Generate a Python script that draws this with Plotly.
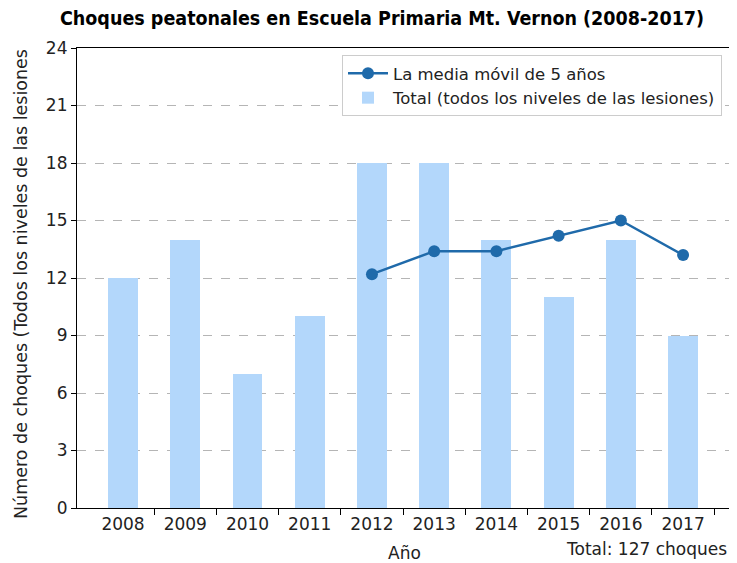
import plotly.graph_objects as go

# datos
years = [2008, 2009, 2010, 2011, 2012, 2013, 2014, 2015, 2016, 2017]
total = [12, 14, 7, 10, 18, 18, 14, 11, 14, 9]
ma_years = [2012, 2013, 2014, 2015, 2016, 2017]
ma_vals = [12.2, 13.4, 13.4, 14.2, 15.0, 13.2]
y_ticks = [0, 3, 6, 9, 12, 15, 18, 21, 24]

xr = [2008 - 0.74, 2017 + 0.77]
font = "DejaVu Sans"
txt = "#222"

# la pagina deja 8px de margen en el body, asi que la figura es un poco mas chica
W, H = 729, 555
ml, mr, mt, mb = 69, 6, 40, 55
pw, ph = W - ml - mr, H - mt - mb


def px(xp):  # x de pagina -> paper
    return (xp - 8 - ml) / pw


def py(yp):  # y de pagina -> paper
    return (H - mb - (yp - 8)) / ph


fig = go.Figure()
fig.add_trace(go.Bar(x=years, y=total, width=0.48, marker_color="#b3d7fb",
                     marker_line_width=0, name="Total (todos los niveles de las lesiones)"))
fig.add_trace(go.Scatter(x=ma_years, y=ma_vals, mode="lines+markers",
                         line=dict(color="#1f6aaa", width=2.5),
                         marker=dict(size=12, color="#1f6aaa"),
                         name="La media móvil de 5 años"))
# eje auxiliar para las marcas entre categorias
fig.add_trace(go.Scatter(x=[], y=[], xaxis="x2", showlegend=False, hoverinfo="skip"))

fig.update_layout(
    width=W, height=H,
    margin=dict(l=ml, r=mr, t=mt, b=mb),
    plot_bgcolor="white", paper_bgcolor="white",
    font=dict(family=font, size=17, color=txt),
    title=dict(text="<b>Choques peatonales en Escuela Primaria Mt. Vernon (2008-2017)</b>",
               font=dict(family="DejaVu Sans Condensed, Liberation Sans Narrow, sans-serif",
                         size=19.5, color="black"),
               x=(382 - 8) / W, xanchor="center", y=1 - (18 - 8) / H, yanchor="middle"),
    xaxis=dict(range=xr, tickvals=years, ticks="", showgrid=False, zeroline=False,
               showline=True, linecolor="black", linewidth=1.2, mirror=True,
               tickfont=dict(size=17, color=txt), automargin=False),
    xaxis2=dict(overlaying="x", side="bottom", range=xr,
                tickvals=[y + 0.5 for y in years], ticks="outside", ticklen=6,
                tickcolor="black", showticklabels=False, showgrid=False,
                zeroline=False, showline=False, automargin=False),
    yaxis=dict(range=[0, 24], tickvals=y_ticks, ticks="outside", ticklen=5,
               tickcolor="black", showgrid=True, gridcolor="#b5b5b5", griddash="dash",
               gridwidth=0.8, zeroline=False, showline=True, linecolor="black",
               linewidth=1.2, mirror=True, tickfont=dict(size=17, color=txt),
               automargin=False),
    legend=dict(x=px(722), y=py(55), xanchor="right", yanchor="top",
                bgcolor="white", bordercolor="#cccccc", borderwidth=1,
                font=dict(size=16.5, color=txt), traceorder="reversed",
                itemwidth=40, tracegroupgap=0),
    bargap=0,
    annotations=[
        dict(text="Número de choques (Todos los niveles de las lesiones",
             xref="paper", yref="paper", x=px(21), y=py(284), textangle=-90,
             xanchor="center", yanchor="middle", showarrow=False,
             font=dict(size=17.5, color=txt)),
        dict(text="Año", xref="paper", yref="paper", x=px(404), y=py(553),
             xanchor="center", yanchor="middle", showarrow=False,
             font=dict(size=17, color=txt)),
        dict(text="Total: 127 choques", xref="paper", yref="paper",
             x=px(729), y=py(549), xanchor="right", yanchor="middle",
             showarrow=False, font=dict(size=17, color=txt)),
    ],
)

fig.write_html("out.html")
